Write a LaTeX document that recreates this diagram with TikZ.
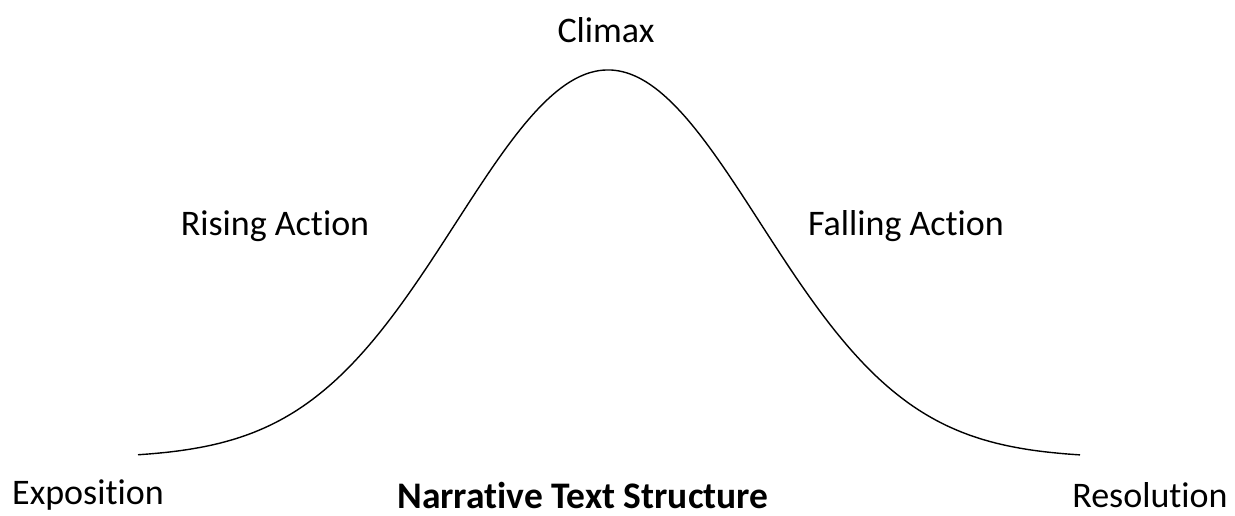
\documentclass[tikz,border=0pt]{standalone}
\usepackage{fontspec}
\setmainfont[RawFeature={-liga}]{Carlito}
\begin{document}
\begin{tikzpicture}[x=1pt,y=-1pt,
  lbl/.style={font=\fontsize{36}{40}\selectfont, inner sep=0pt},
  ttl/.style={font=\fontsize{37.5}{42}\selectfont\bfseries, inner sep=0pt, text depth=0pt, anchor=base},
  curve/.style={line width=1.4pt, black}]
\useasboundingbox (0,0) rectangle (1235,515);
\draw[curve] plot[domain=138:1080, samples=240, smooth] (\x, {458-388*exp(-((\x-608)/152)^2/2)});
\node[lbl] (climax) at (606,30) {Climax};
\node[lbl] (rising) at (275,226) {Rising Action};
\node[lbl] (falling) at (906,226) {Falling Action};
\node[lbl] (expo) at (88,495) {Exposition};
\node[lbl] (reso) at (1150,495) {Resolution};
\node[ttl] (title) at (583,508) {Narrative Text Structure};
\end{tikzpicture}
\end{document}
